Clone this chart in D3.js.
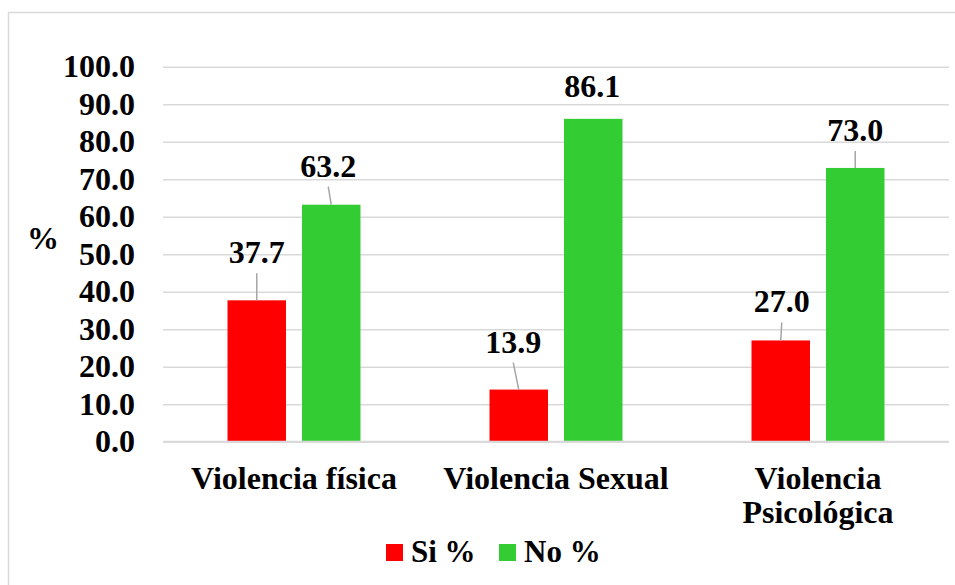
<!DOCTYPE html>
<html>
<head>
<meta charset="utf-8">
<script src="https://cdn.jsdelivr.net/npm/d3@7"></script>
<style>
  html, body { margin: 0; padding: 0; background: #fff; }
</style>
</head>
<body>
<svg id="chart" width="955" height="585" font-family="Liberation Serif, Times New Roman, serif" font-weight="bold"></svg>
<script>
// DATA
const categories = ['Violencia física', 'Violencia Sexual', 'Violencia Psicológica'];
const seriesNames = ['Si %', 'No %'];
const siValues = [37.7, 13.9, 27.0];
const noValues = [63.2, 86.1, 73.0];
const yTicks = [0, 10, 20, 30, 40, 50, 60, 70, 80, 90, 100];

// LAYOUT (label placement, per category then series: [dx, gap above bar])
const labelPlacement = [
  [[0, 37], [-3, 28]],
  [[-5.5, 37], [-1, 22]],
  [[1, 28], [0, 27]],
];
const colors = ['#ff0000', '#33cc33'];
const fontFamily = 'Liberation Serif, Times New Roman, serif';
const fontSize = 32;

const svg = d3.select('#chart');
const plot = { left: 163, right: 949, top: 66.7, bottom: 441.7 };

// chart frame
svg.append('rect')
  .attr('x', 8.5).attr('y', 12.5)
  .attr('width', 980).attr('height', 600)
  .attr('fill', 'none')
  .attr('stroke', '#d9d9d9')
  .attr('stroke-width', 1.5);

// SCALES
const x0 = d3.scaleBand().domain(categories).range([plot.left, plot.right]).paddingInner(0).paddingOuter(0);
const x1 = d3.scaleBand().domain(seriesNames).range([0, x0.bandwidth()]).paddingInner(0.215).paddingOuter(0.866);
const y = d3.scaleLinear().domain([0, 100]).range([plot.bottom, plot.top]);

// gridlines
svg.append('g')
  .attr('transform', `translate(${plot.left},0)`)
  .call(d3.axisLeft(y).tickValues(yTicks).tickSize(-(plot.right - plot.left)).tickFormat(''))
  .call(g => g.select('.domain').remove())
  .call(g => g.selectAll('line').attr('stroke', '#d9d9d9').attr('stroke-width', 1.5));

// y tick labels
svg.append('g')
  .attr('transform', `translate(${plot.left},0)`)
  .call(d3.axisLeft(y).tickValues(yTicks).tickSize(0).tickPadding(28).tickFormat(d3.format('.1f')))
  .attr('font-family', fontFamily)
  .attr('font-size', fontSize)
  .call(g => g.select('.domain').remove())
  .call(g => g.selectAll('text').attr('fill', '#000'));

// y axis title
svg.append('text')
  .attr('x', 43).attr('y', 249)
  .attr('text-anchor', 'middle')
  .attr('font-size', fontSize)
  .text('%');

// BARS
const rows = categories.map((c, i) => ({ cat: c, i, values: [siValues[i], noValues[i]] }));
const groups = svg.selectAll('g.group')
  .data(rows)
  .join('g')
  .attr('class', 'group')
  .attr('transform', d => `translate(${x0(d.cat)},0)`);

groups.selectAll('rect')
  .data(d => d.values.map((v, j) => ({ v, j, i: d.i })))
  .join('rect')
  .attr('x', d => x1(seriesNames[d.j]))
  .attr('y', d => y(d.v))
  .attr('width', x1.bandwidth())
  .attr('height', d => y(0) - y(d.v))
  .attr('fill', d => colors[d.j]);

// data labels with leader lines
groups.each(function (d) {
  const g = d3.select(this);
  d.values.forEach((v, j) => {
    const [dx, gap] = labelPlacement[d.i][j];
    const cx = x1(seriesNames[j]) + x1.bandwidth() / 2;
    const top = y(v);
    const base = top - gap;
    if (gap > 24) {
      g.append('line')
        .attr('x1', cx + dx).attr('y1', base + 10)
        .attr('x2', cx).attr('y2', top)
        .attr('stroke', '#a6a6a6')
        .attr('stroke-width', 1.5);
    }
    g.append('text')
      .attr('x', cx + dx).attr('y', base)
      .attr('text-anchor', 'middle')
      .attr('font-size', fontSize)
      .text(d3.format('.1f')(v));
  });
});

// x axis line
svg.append('line')
  .attr('x1', plot.left).attr('x2', plot.right)
  .attr('y1', plot.bottom).attr('y2', plot.bottom)
  .attr('stroke', '#d9d9d9').attr('stroke-width', 2);

// category labels (wrapped)
const catLabels = svg.selectAll('text.cat')
  .data(categories)
  .join('text')
  .attr('class', 'cat')
  .attr('x', d => x0(d) + x0.bandwidth() / 2)
  .attr('y', 489)
  .attr('text-anchor', 'middle')
  .attr('font-size', fontSize)
  .text(d => d);

catLabels.each(function (d) {
  const t = d3.select(this);
  const maxW = x0.bandwidth() - 20;
  if (this.getComputedTextLength() <= maxW) return;
  const words = d.split(' ');
  const cx = t.attr('x');
  t.text(null);
  words.forEach((w, k) => {
    t.append('tspan').attr('x', cx).attr('dy', k === 0 ? 0 : 34).text(w);
  });
});

// LEGEND
const legend = svg.append('g').attr('transform', 'translate(386,544)');
const legendX = [0, 113];
seriesNames.forEach((s, j) => {
  const item = legend.append('g').attr('transform', `translate(${legendX[j]},0)`);
  item.append('rect').attr('width', 17).attr('height', 17).attr('fill', colors[j]);
  item.append('text')
    .attr('x', 25).attr('y', 18)
    .attr('font-size', 31)
    .text(s);
});
</script>
</body>
</html>
